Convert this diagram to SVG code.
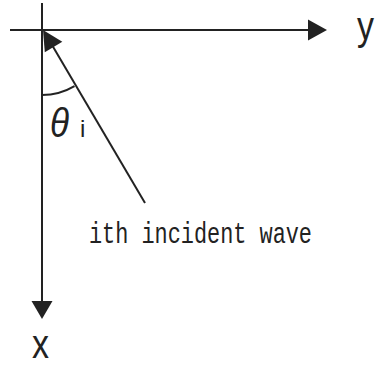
<svg xmlns="http://www.w3.org/2000/svg" width="375" height="365" viewBox="0 0 375 365">
<style>
.ln{stroke:#222;stroke-width:2;fill:none}
.ah{fill:#222;stroke:none}
.lbl{fill:#222;font-family:"Liberation Sans","Noto Sans",sans-serif}
.mono{fill:#222;font-family:"Liberation Mono","DejaVu Sans Mono",monospace}
</style>
<rect width="375" height="365" fill="#fff"/>
<g id="connectors">
<line class="ln" x1="10" y1="30" x2="310" y2="30"/>
<polygon class="ah" points="327,30 308,19.5 308,40.5"/>
<line class="ln" x1="42" y1="3" x2="42" y2="303"/>
<polygon class="ah" points="42,319 31.5,301 52.5,301"/>
<line class="ln" x1="145" y1="203" x2="52" y2="45"/>
<polygon class="ah" points="43,30 62.3,41.8 44.8,52.2"/>
<path class="ln" d="M42,95 A64,64 0 0 0 74.5,86.1"/>
</g>
<g id="axis-y"><text class="lbl" x="357" y="40" font-size="40" textLength="17" lengthAdjust="spacingAndGlyphs">y</text></g>
<g id="axis-x"><text class="lbl" x="32" y="358" font-size="40" textLength="17" lengthAdjust="spacingAndGlyphs">x</text></g>
<g id="angle">
<text class="lbl" x="50" y="137" font-size="40" font-style="italic" textLength="19" lengthAdjust="spacingAndGlyphs">θ</text>
<text class="lbl" x="80" y="137" font-size="24">i</text>
</g>
<g id="wave-label"><text class="mono" x="89" y="243" font-size="30" textLength="223" lengthAdjust="spacingAndGlyphs">ith incident wave</text></g>
</svg>
